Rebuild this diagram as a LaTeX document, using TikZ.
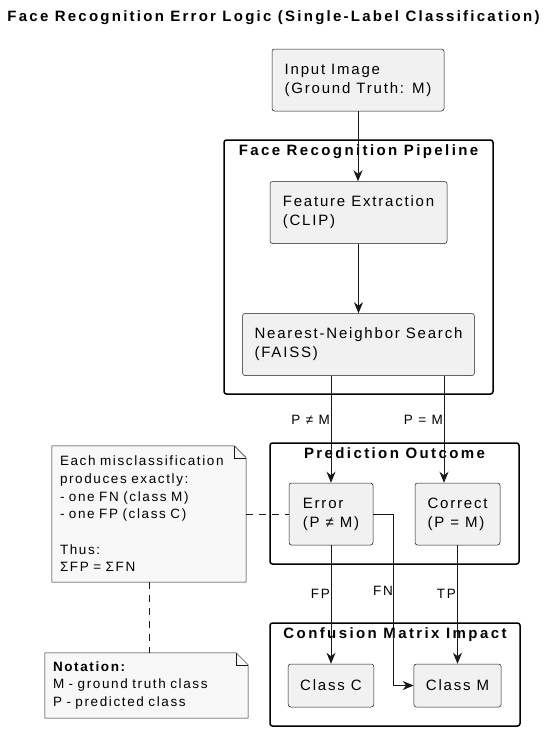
\documentclass[tikz,border=0pt]{standalone}
\usepackage{fontspec}
\setmainfont{Liberation Sans}[LetterSpace=12]
\newfontfamily\framefont{Liberation Sans}[LetterSpace=16]
\newfontfamily\titlefont{Liberation Sans}[LetterSpace=15]
\usetikzlibrary{arrows.meta,backgrounds}
\definecolor{cboite}{HTML}{F1F1F1}
\definecolor{cnote}{HTML}{F8F8F8}
\definecolor{ctrait}{HTML}{181818}

\begin{document}
\begin{tikzpicture}[x=1pt, y=-1pt,
  boite/.style={draw=ctrait, line width=0.5pt, fill=cboite, rounded corners=2.5pt,
    inner xsep=12pt, inner ysep=0pt, minimum height=62pt, align=left,
    font=\fontsize{15}{19}\selectfont},
  note/.style={inner xsep=8pt, inner ysep=0pt, align=left,
    font=\fontsize{13.5}{17.7}\selectfont},
  cadre/.style={draw=black, line width=1.5pt, rounded corners=2.5pt, inner sep=0pt},
  titrecadre/.style={font=\framefont\bfseries\fontsize{15}{18}\selectfont, inner sep=0pt},
  fleche/.style={draw=ctrait, line width=1pt, -{Stealth[length=11pt,width=9pt,inset=3.5pt]}},
  pointille/.style={draw=ctrait, line width=1pt, dash pattern=on 7pt off 6pt},
  etiq/.style={font=\fontsize{13.5}{15}\selectfont, anchor=east, inner sep=0pt}]
\useasboundingbox (0,0) rectangle (550,739);

\node[font=\titlefont\bfseries\fontsize{15}{18}\selectfont] (titre) at (273.5,18)
  {Face Recognition Error Logic (Single-Label Classification)};

% cadres
\node[cadre, minimum width=269pt, minimum height=254pt] (pipeline) at (358.5,267) {};
\node[cadre, minimum width=249pt, minimum height=121pt] (issue) at (394.5,503.5) {};
\node[cadre, minimum width=250pt, minimum height=103pt] (matrice) at (395,674.5) {};
\node[titrecadre] (tpipeline) at ([yshift=-12pt]pipeline.north) {Face Recognition Pipeline};
\node[titrecadre] (tissue) at ([yshift=-11pt]issue.north) {Prediction Outcome};
\node[titrecadre] (tmatrice) at ([yshift=-12pt]matrice.north) {Confusion Matrix Impact};

% boites
\node[boite, minimum width=172pt] (entree) at (358,80) {Input Image\\(Ground Truth: M)};
\node[boite, minimum width=177pt] (extract) at (358.5,212.5) {Feature Extraction\\(CLIP)};
\node[boite, minimum width=231pt] (voisin) at (358.5,344.5) {Nearest-Neighbor Search\\(FAISS)};
\node[boite, minimum width=84pt] (erreur) at (331,514) {Error\\(P ≠ M)};
\node[boite, minimum width=85pt] (correct) at (457.5,514) {Correct\\(P = M)};
\node[boite, minimum width=84pt, minimum height=43pt] (classeC) at (331,685.5) {Class C};
\node[boite, minimum width=87pt, minimum height=43pt] (classeM) at (457.5,685.5) {Class M};

% notes
\node[note, text width=178pt, minimum height=136pt] (remarque) at (149,514)
  {Each misclassification\\produces exactly:\\- one FN (class M)\\- one FP (class C)\\[17.7pt]Thus:\\ΣFP = ΣFN};
\node[note, text width=187pt, minimum height=65pt] (notation) at (146.5,685.5)
  {\textbf{Notation:}\\M - ground truth class\\P - predicted class};
\begin{scope}[on background layer]
\foreach \n in {remarque,notation}
  {\filldraw[draw=ctrait, line width=0.5pt, fill=cnote]
     (\n.south west) -- (\n.north west) -- ([xshift=-12pt]\n.north east)
     -- ([yshift=-12pt]\n.north east) -- (\n.south east) -- cycle;
   \draw[ctrait, line width=0.5pt] ([xshift=-12pt]\n.north east) -- ++(0pt,-12pt)
     -- ([yshift=-12pt]\n.north east);}
\end{scope}

% connecteurs
\coordinate (coude) at (393,514);
\draw[fleche] (entree.south) -- (entree.south |- extract.north);
\draw[fleche] (extract) -- (voisin);
\draw[fleche] (erreur.north |- voisin.south) -- (erreur.north);
\draw[fleche] ([xshift=-13.5pt]correct.north |- voisin.south) -- ([xshift=-13.5pt]correct.north);
\draw[fleche] (erreur) -- (classeC);
\draw[fleche] (correct) -- (classeM);
\draw[fleche] (erreur.east) -- (coude) |- (classeM.west);
\draw[pointille] (remarque.east) -- (erreur.west);
\draw[pointille] (remarque.south) -- (remarque.south |- notation.north);

\foreach \nom/\x/\y/\txt in {lbldiff/330/420/P ≠ M, lblegal/443/420/P = M,
    lblfp/330/594/FP, lblfn/393/591/FN, lbltp/456/594/TP}
  {\node[etiq] (\nom) at (\x,\y) {\txt};}
\end{tikzpicture}
\end{document}
